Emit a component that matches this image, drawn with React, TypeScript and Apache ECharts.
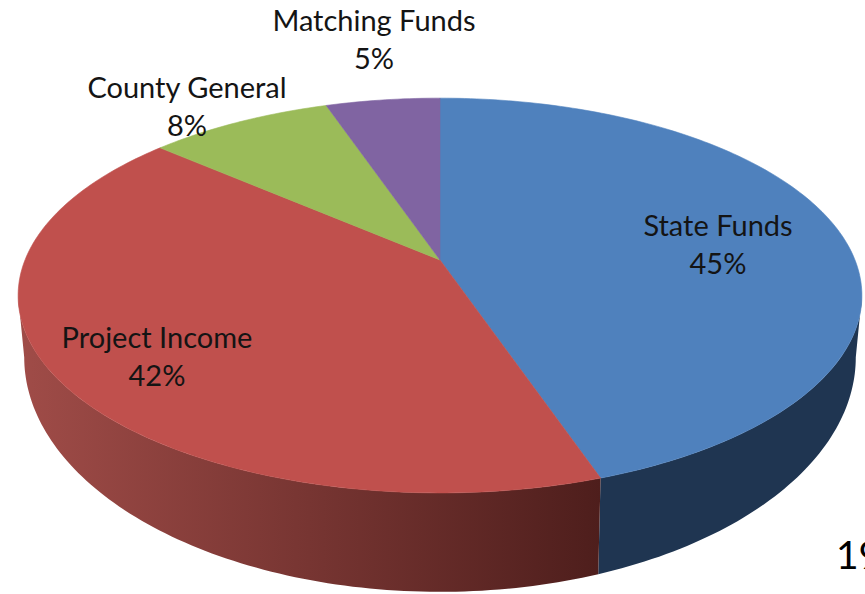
import React, { useEffect, useRef } from "react";
import * as echarts from "echarts";

const categories = ["State Funds", "Project Income", "County General", "Matching Funds"];
const shareValues = [44.8, 41.6, 8.4, 5.2];

const topColors = ["#4f81bd", "#c0504d", "#9bbb59", "#8064a2"];
const wallColors: (string | string[])[] = ["#1f3551", ["#a04c48", "#4e1e1c"], "#5d7035", "#4c3c61"];
const labelCentres = [
  [718, 243],
  [157, 355],
  [187, 105],
  [374, 38],
];

const CX = 440;
const K = 0.18;
const TOP = { y: 260, a: 415, b: 191 };
const BOTTOM = { y: 315, a: 409, b: 227 };
const FONT = "Lato, Carlito, sans-serif";

const project = (deg: number, ring: { y: number; a: number; b: number }) => {
  const t = (deg * Math.PI) / 180;
  const u = Math.sin(t);
  const v = Math.cos(t);
  const d = 1 + K * v;
  return [CX + (ring.a * u) / d, ring.y - (ring.b * v) / d];
};

const arc = (from: number, to: number, ring: { y: number; a: number; b: number }) => {
  const pts: number[][] = [];
  const n = Math.max(2, Math.ceil(Math.abs(to - from)));
  for (let i = 0; i <= n; i++) pts.push(project(from + ((to - from) * i) / n, ring));
  return pts;
};

export default function App() {
  const ref = useRef<HTMLDivElement>(null);
  useEffect(() => {
    if (!ref.current) return;
    const chart = echarts.init(ref.current, undefined, { renderer: "svg" });
    const total = shareValues.reduce((s, v) => s + v, 0);
    const visFrom = (Math.acos(-K) * 180) / Math.PI;
    const visTo = 360 - visFrom;

    const renderItem = (params: any, api: any) => {
      const i = params.dataIndex;
      const before = shareValues.slice(0, i).reduce((s, v) => s + v, 0);
      const start = (before / total) * 360;
      const end = start + (api.value(0) / total) * 360;
      const children: any[] = [];

      const a = Math.max(start, visFrom);
      const b = Math.min(end, visTo);
      if (b > a) {
        const wall = wallColors[i];
        const fill = Array.isArray(wall)
          ? new echarts.graphic.LinearGradient(0, 0, 1, 0, [
              { offset: 0, color: wall[0] },
              { offset: 1, color: wall[1] },
            ])
          : wall;
        children.push({
          type: "polygon",
          shape: { points: [...arc(a, b, TOP), ...arc(b, a, BOTTOM)] },
          style: { fill, stroke: "none" },
        });
      }
      children.push({
        type: "polygon",
        shape: { points: [[CX, TOP.y], ...arc(start, end, TOP)] },
        style: { fill: topColors[i], stroke: topColors[i], lineWidth: 0.6 },
      });
      children.push({
        type: "text",
        z2: 10,
        style: {
          x: labelCentres[i][0],
          y: labelCentres[i][1],
          text: `${categories[i]}\n${Math.round(api.value(0))}%`,
          fill: "#141414",
          font: `29px ${FONT}`,
          lineHeight: 38,
          align: "center",
          verticalAlign: "middle",
        },
      });
      return { type: "group", children };
    };

    chart.setOption({
      animation: false,
      backgroundColor: "#ffffff",
      series: [
        {
          type: "custom",
          coordinateSystem: "none",
          silent: true,
          renderItem,
          data: shareValues.map((v) => [v]),
        },
      ],
      graphic: [
        {
          type: "text",
          x: 836,
          y: 534,
          style: { text: "19", fill: "#000", font: `39px ${FONT}` },
        },
      ],
    });
    return () => chart.dispose();
  }, []);
  return (
    <div
      ref={ref}
      style={{ position: "absolute", left: 0, top: 0, width: 865, height: 594, overflow: "hidden" }}
    />
  );
}
